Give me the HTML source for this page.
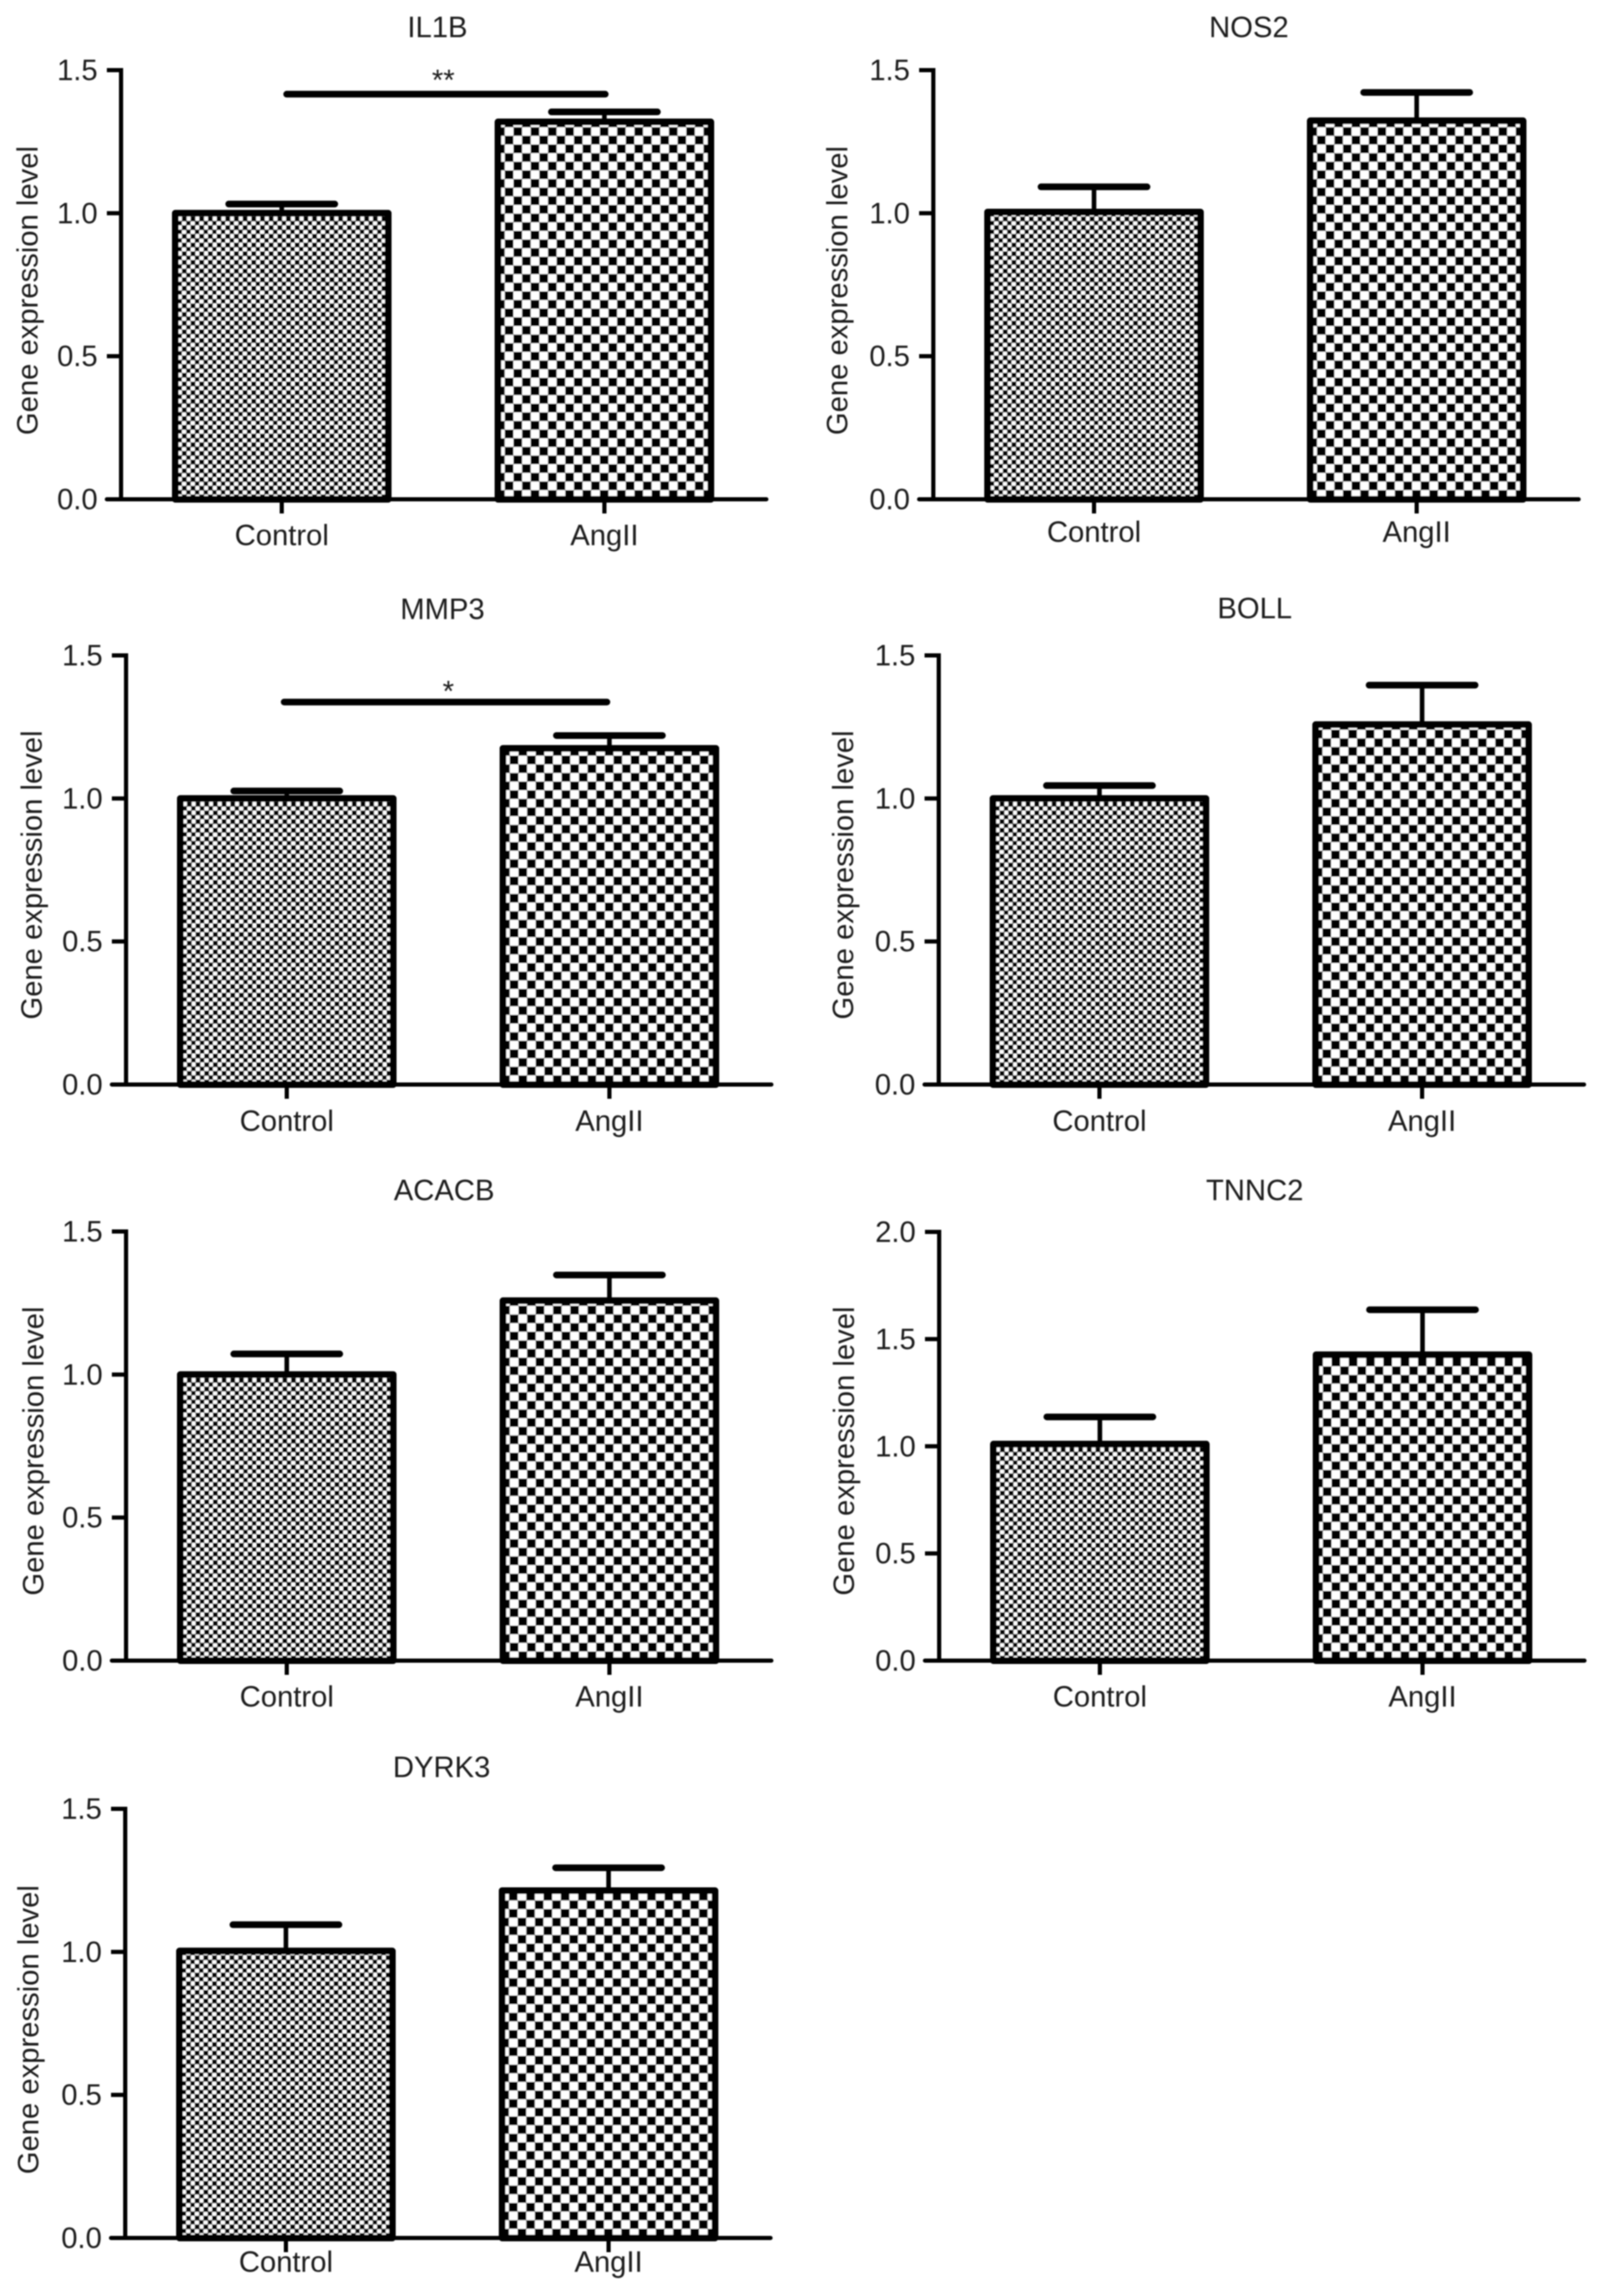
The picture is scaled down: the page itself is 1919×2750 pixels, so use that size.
<!DOCTYPE html>
<html lang="en">
<head>
<meta charset="utf-8">
<title>Gene expression level: Control vs AngII</title>
<style>
html,body{margin:0;padding:0;background:#fff;width:1919px;height:2750px;overflow:hidden}
svg{display:block}
text{font-family:"Liberation Sans",Arial,sans-serif;font-size:35px;fill:#1a1a1a}
</style>
</head>
<body>
<svg id="figure" xmlns="http://www.w3.org/2000/svg" width="1919" height="2750" viewBox="0 0 1919 2750">
  <defs id="defs">
    <filter id="soften" filterUnits="userSpaceOnUse" x="0" y="0" width="1919" height="2750">
      <feGaussianBlur stdDeviation="0.75"/>
    </filter>
  </defs>
  <g id="plots" filter="url(#soften)"></g>
</svg>
<script>
// ---- chart data ----
const genes = ['IL1B', 'NOS2', 'MMP3', 'BOLL', 'ACACB', 'TNNC2', 'DYRK3'];
const categories = ['Control', 'AngII'];
const controlMeans = [1.0, 1.004, 1.0, 1.0, 1.0, 1.01, 1.003];
const controlUpper = [1.032, 1.092, 1.026, 1.045, 1.072, 1.137, 1.095];
const angMeans = [1.319, 1.323, 1.175, 1.258, 1.258, 1.427, 1.214];
const angUpper = [1.354, 1.422, 1.22, 1.396, 1.348, 1.637, 1.294];
const yMaxValues = [1.5, 1.5, 1.5, 1.5, 1.5, 2.0, 1.5];
const standardTicks = ['0.0', '0.5', '1.0', '1.5'];
const extendedTicks = ['0.0', '0.5', '1.0', '1.5', '2.0'];
const yTickSets = [standardTicks, standardTicks, standardTicks, standardTicks, standardTicks, extendedTicks, standardTicks];
const sigLevels = [1.416, null, 1.337, null, null, null, null];
const sigLabels = ['**', null, '*', null, null, null, null];
const sigLabelLevels = [1.485, null, 1.395, null, null, null, null];
const yAxisTitle = 'Gene expression level';

// ---- panel layout ----
const frames = [
  {ax:145,    top:84,     bottom:598,    cat:653,    ylX:45,   ylY:348,  tX:524,  tY:44.5,  sig:[339.4,729,531]},
  {ax:1118,   top:84,     bottom:598,    cat:649,    ylX:1015, ylY:348,  tX:1496, tY:44.5},
  {ax:151,    top:785,    bottom:1299,   cat:1354.5, ylX:50,   ylY:1048, tX:530,  tY:741.5, sig:[336.4,731,537]},
  {ax:1124.5, top:785,    bottom:1299,   cat:1354.5, ylX:1022, ylY:1048, tX:1503, tY:740.5},
  {ax:151,    top:1475,   bottom:1989,   cat:2044,   ylX:52,   ylY:1738, tX:532,  tY:1437.5},
  {ax:1125,   top:1475.5, bottom:1989,   cat:2044,   ylX:1023, ylY:1738, tX:1503, tY:1437.5},
  {ax:150,    top:2166.5, bottom:2680.5, cat:2721,   ylX:46,   ylY:2431, tX:529,  tY:2128.5}
];
const CONTROL_OFFSET = 192.5, ANG_OFFSET = 579, AXIS_LENGTH = 773;
const BAR_HALF = 127.5, BAR_STROKE = 8, CAP_HALF = 63.5, AXIS_STROKE = 5;
const CONTROL_CELL = 5.2, ANG_CELL = 10.35;

const NS = 'http://www.w3.org/2000/svg';
const defs = document.getElementById('defs');
const root = document.getElementById('plots');

function make(tag, attrs, parent) {
  const node = document.createElementNS(NS, tag);
  for (const key in attrs) node.setAttribute(key, attrs[key]);
  parent.appendChild(node);
  return node;
}
function strokeLine(x1, y1, x2, y2, width, cap, parent) {
  return make('line', {x1: x1, y1: y1, x2: x2, y2: y2, stroke: '#000', 'stroke-width': width, 'stroke-linecap': cap}, parent);
}
function checkerPattern(id, ox, oy, cell, swell) {
  const p = make('pattern', {id: id, patternUnits: 'userSpaceOnUse', x: ox, y: oy, width: cell * 2, height: cell * 2}, defs);
  make('rect', {x: 0, y: 0, width: cell * 2, height: cell * 2, fill: '#fff'}, p);
  make('rect', {x: 0, y: 0, width: cell + swell, height: cell + swell, fill: '#000'}, p);
  make('rect', {x: cell, y: cell, width: cell, height: cell, fill: '#000'}, p);
}

function drawPanel(i) {
  const f = frames[i];
  const yMax = yMaxValues[i];
  const yScale = function (v) { return f.bottom - (v / yMax) * (f.bottom - f.top); };
  const xControl = f.ax + CONTROL_OFFSET;
  const xAng = f.ax + ANG_OFFSET;

  const g = make('g', {}, root);
  
  

  const title = make('text', {x: f.tX, y: f.tY, 'text-anchor': 'middle'}, g);
  
  
  title.textContent = genes[i];

  const yTitle = make('text', {x: f.ylX, y: f.ylY, 'text-anchor': 'middle', transform: 'rotate(-90 ' + f.ylX + ' ' + f.ylY + ')'}, g);
  
  
  yTitle.textContent = yAxisTitle;

  // bars drawn with their error bars
  const series = [
    {x: xControl, mean: controlMeans[i], upper: controlUpper[i], cell: CONTROL_CELL, shift: 5.2, swell: 0.5},
    {x: xAng, mean: angMeans[i], upper: angUpper[i], cell: ANG_CELL, shift: 98, swell: 0}
  ];
  series.forEach(function (s, k) {
    const stem = strokeLine(s.x, yScale(s.mean), s.x, yScale(s.upper), 5.5, 'butt', g);
    
    

    const cap = strokeLine(s.x - CAP_HALF, yScale(s.upper), s.x + CAP_HALF, yScale(s.upper), 8, 'round', g);
    
    

    const pid = 'fill-' + i + '-' + k;
    checkerPattern(pid, s.x + s.shift, f.bottom - 0.6 - s.cell, s.cell, s.swell);
    const topY = yScale(s.mean);
    const bar = make('rect', {
      x: s.x - BAR_HALF, y: topY, width: BAR_HALF * 2, height: f.bottom - topY,
      fill: 'url(#' + pid + ')', stroke: '#000', 'stroke-width': BAR_STROKE, 'stroke-linejoin': 'round'
    }, g);
    
    
  });

  // y axis
  const yAxis = strokeLine(f.ax, f.top - AXIS_STROKE / 2, f.ax, f.bottom, AXIS_STROKE, 'butt', g);
  
  

  yTickSets[i].forEach(function (label) {
    const y = yScale(parseFloat(label));
    const tick = strokeLine(f.ax - 17, y, f.ax, y, AXIS_STROKE, 'butt', g);
    
    

    const tickText = make('text', {x: f.ax - 28, y: y + 12, 'text-anchor': 'end'}, g);
    
    
    tickText.textContent = label;
  });

  // x axis
  const xAxis = strokeLine(f.ax - 17, f.bottom, f.ax + AXIS_LENGTH, f.bottom, AXIS_STROKE, 'round', g);
  
  

  [xControl, xAng].forEach(function (x, k) {
    const tick = strokeLine(x, f.bottom, x, f.bottom + 17, AXIS_STROKE, 'butt', g);
    
    

    const catText = make('text', {x: x, y: f.cat, 'text-anchor': 'middle'}, g);
    
    
    catText.textContent = categories[k];
  });

  // significance bracket
  if (sigLevels[i] !== null) {
    const sy = yScale(sigLevels[i]);
    const sigLine = strokeLine(f.sig[0] + 4, sy, f.sig[1] - 4, sy, 8, 'round', g);
    
    

    const star = make('text', {x: f.sig[2], y: yScale(sigLabelLevels[i]) + 19, 'text-anchor': 'middle'}, g);
    
    
    star.textContent = sigLabels[i];
  }
}

genes.forEach(function (_, i) { drawPanel(i); });
</script>
</body>
</html>
